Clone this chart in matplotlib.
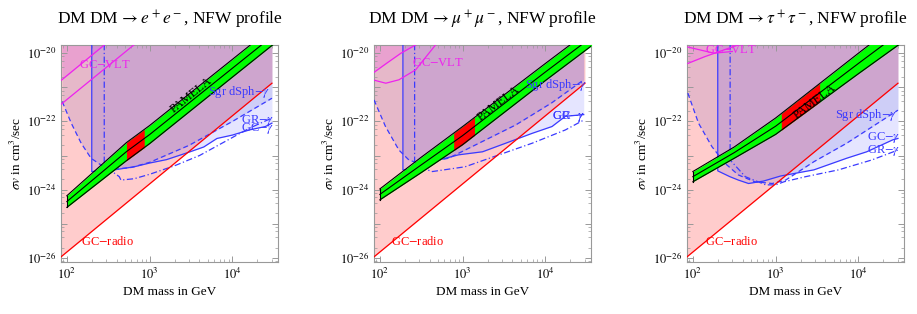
import numpy as np
import matplotlib.pyplot as plt
from matplotlib.ticker import LogLocator, NullFormatter, FixedLocator

plt.rcParams['font.family'] = ['Liberation Serif', 'DejaVu Serif']
plt.rcParams['mathtext.fontset'] = 'stix'

# ---- data (mass in GeV, log10 of sigma v in cm^3/sec) ----
titles = [r'DM DM$\,\rightarrow e^+e^-$, NFW profile',
          r'DM DM$\,\rightarrow \mu^+\mu^-$, NFW profile',
          r'DM DM$\,\rightarrow \tau^+\tau^-$, NFW profile']

radio_m = [85, 30000]
radio_lsv = [-25.97, -20.88]

# e+ e-
ee_band_m = [100, 525, 1000, 10000, 40000]
ee_band_lo = [-24.52, -23.15, -22.65, -20.70, -19.53]
ee_band_hi = [-24.18, -22.62, -22.12, -20.18, -19.01]
ee_red = [525, 860]
ee_sgr_m = [88, 113, 149, 196, 259, 375, 600, 1000, 3000, 10000, 30000]
ee_sgr = [-21.42, -22.05, -22.64, -23.08, -23.28, -23.40, -23.35, -23.2, -22.7, -22.0, -21.32]
ee_gc_m = [200, 200, 260, 375, 650, 1000, 1600, 3000, 4500, 6500, 10000, 16000, 25000, 30000]
ee_gc = [-19.0, -23.47, -23.45, -23.42, -23.33, -23.22, -23.12, -22.9, -22.75, -22.5, -22.40, -22.25, -22.15, -22.05]
ee_gr_m = [283, 283, 430, 450, 650, 1000, 2000, 4000, 8000, 16000, 30000]
ee_gr = [-19.0, -23.3, -23.62, -23.72, -23.68, -23.55, -23.3, -23.0, -22.6, -22.2, -21.9]
ee_vlt_m = [[85, 500], [85, 1000]]
ee_vlt = [[-20.80, -19.27], [-21.50, -19.38]]

# mu+ mu-
mm_band_m = [100, 316, 1000, 10000, 40000]
mm_band_lo = [-24.30, -23.50, -22.68, -20.80, -19.70]
mm_band_hi = [-23.98, -23.05, -22.15, -20.30, -19.20]
mm_red = [780, 1390]
mm_sgr_m = [85, 117, 170, 224, 295, 676, 1900, 4400, 7000, 12000, 29000]
mm_sgr = [-21.37, -22.15, -22.84, -23.13, -23.23, -23.08, -22.54, -22.1, -21.8, -21.45, -20.78]
mm_gc_m = [190, 190, 280, 430, 890, 1740, 3300, 6900, 12000, 17400, 29000]
mm_gc = [-19.0, -23.42, -23.42, -23.18, -22.98, -22.89, -22.64, -22.35, -22.15, -21.85, -21.8]
mm_gr_m = [263, 263, 355, 430, 1070, 2750, 6900, 17400, 29000]
mm_gr = [-19.0, -23.18, -23.4, -23.47, -23.33, -22.98, -22.64, -22.25, -21.96]
mm_vlt_m = [[82, 120, 180, 270], [82, 118, 170, 270, 470]]
mm_vlt = [[-20.59, -20.30, -20.00, -19.76], [-20.78, -20.88, -20.78, -20.49, -19.76]]

# tau+ tau-
tt_band_m = [100, 316, 1000, 10000, 40000]
tt_band_lo = [-23.77, -23.08, -22.38, -20.60, -19.55]
tt_band_hi = [-23.47, -22.75, -21.90, -20.00, -18.87]
tt_red = [1170, 3400]
tt_sgr_m = [87, 117, 170, 245, 355, 560, 910, 1320, 2900, 7200, 30000]
tt_sgr = [-21.17, -22.05, -22.74, -23.23, -23.57, -23.77, -23.82, -23.72, -23.18, -22.64, -21.67]
tt_gc_m = [200, 200, 280, 355, 470, 710, 1150, 2900, 7200, 12600, 26000, 30000]
tt_gc = [-19.0, -23.45, -23.62, -23.72, -23.82, -23.75, -23.6, -23.42, -23.08, -22.89, -22.54, -22.5]
tt_gr_m = [282, 282, 430, 760, 1000, 1260, 2300, 5750, 14500, 30000]
tt_gr = [-19.0, -23.13, -23.62, -23.86, -23.86, -23.77, -23.62, -23.42, -23.13, -22.84]
tt_vlt_m = [[87, 140, 350], [87, 180, 300]]
tt_vlt = [[-20.30, -20.10, -19.76], [-19.82, -20.0, -19.95]]

panels = [
    (ee_band_m, ee_band_lo, ee_band_hi, ee_red, ee_sgr_m, ee_sgr, ee_gc_m, ee_gc, ee_gr_m, ee_gr, ee_vlt_m, ee_vlt),
    (mm_band_m, mm_band_lo, mm_band_hi, mm_red, mm_sgr_m, mm_sgr, mm_gc_m, mm_gc, mm_gr_m, mm_gr, mm_vlt_m, mm_vlt),
    (tt_band_m, tt_band_lo, tt_band_hi, tt_red, tt_sgr_m, tt_sgr, tt_gc_m, tt_gc, tt_gr_m, tt_gr, tt_vlt_m, tt_vlt),
]

# label spots (mass, log sigma v)
vlt_pos = [(140, -20.34), (245, -20.29), (140, -19.9)]
radio_pos = [(148, -25.53), (135, -25.53), (140, -25.53)]
sgr_pos = [(5100, -21.13), (5700, -20.93), (5200, -21.81)]
gc_pos = [(12600, -22.2), (12000, -21.86), (12600, -22.47)]
gr_pos = [(12600, -21.98), (12000, -21.86), (12600, -22.86)]
pamela_pos = [(3200, -21.22), (2750, -21.47), (3000, -21.42)]

ymin, ymax = -26.13, -19.76
xmin, xmax = 85, 35500
blue = '#3a3aff'
frame = '#999999'

fig = plt.figure(figsize=(9.17, 3.14), dpi=100)
lefts = [61, 374, 687]

for i, (bm, blo, bhi, red, sm, ss, gm, gs, rm, rs, vm, vs) in enumerate(panels):
    ax = fig.add_axes([lefts[i] / 917, 1 - 262.3 / 314, 217 / 917, 217.3 / 314])
    ax.set_xscale('log')
    ax.set_yscale('log')
    ax.set_xlim(xmin, xmax)
    ax.set_ylim(10 ** ymin, 10 ** ymax)
    top = 10 ** (ymax + 1)

    # radio region
    rm_ = np.array(radio_m, float)
    rl = 10 ** np.array(radio_lsv)
    ax.fill_between(rm_, rl, top, color='red', alpha=0.2, lw=0, zorder=1)
    ax.plot(rm_, rl, color='red', lw=0.9, zorder=4)

    # gamma regions
    ax.fill_between(sm, 10 ** np.array(ss), top, color=(0.04, 0.04, 0.72), alpha=0.1, lw=0, zorder=1)
    ax.fill_between(gm[1:], 10 ** np.array(gs[1:]), top, color='blue', alpha=0.1, lw=0, zorder=1)

    # GC-VLT
    ax.fill_between(vm[0], 10 ** np.array(vs[0]), top, color='magenta', alpha=0.12, lw=0, zorder=1)
    for m_, s_ in zip(vm, vs):
        ax.plot(m_, 10 ** np.array(s_), color='#ee22ee', lw=0.9, zorder=4)

    ax.plot(sm, 10 ** np.array(ss), color=blue, lw=0.9, dashes=(4, 2.5), zorder=3)
    ax.plot(gm, 10 ** np.array(gs), color=blue, lw=0.9, zorder=3)
    ax.plot(rm, 10 ** np.array(rs), color=blue, lw=0.9, dashes=(5, 2, 1, 2), zorder=3)

    # PAMELA band
    lo = 10 ** np.array(blo)
    hi = 10 ** np.array(bhi)
    ax.fill_between(bm, lo, hi, color='#00ff00', lw=0, zorder=5)
    mm = np.geomspace(red[0], red[1], 30)
    lbm = np.log10(bm)
    rlo = 10 ** np.interp(np.log10(mm), lbm, blo)
    rhi = 10 ** np.interp(np.log10(mm), lbm, bhi)
    ax.fill_between(mm, rlo, rhi, color='#ff0000', lw=0, zorder=5)
    ax.plot(bm, lo, color='k', lw=0.8, zorder=6)
    ax.plot(bm, hi, color='k', lw=0.8, zorder=6)
    ax.plot(bm, np.sqrt(lo * hi), color='k', lw=0.8, zorder=6)
    ax.plot([bm[0], bm[0]], [lo[0], hi[0]], color='k', lw=0.8, zorder=6)

    # rotated PAMELA label
    pm, ps = pamela_pos[i]
    c = np.log10(np.sqrt(lo * hi))
    p1 = ax.transData.transform((pm / 1.5, 10 ** np.interp(np.log10(pm / 1.5), lbm, c)))
    p2 = ax.transData.transform((pm * 1.5, 10 ** np.interp(np.log10(pm * 1.5), lbm, c)))
    ang = np.degrees(np.arctan2(p2[1] - p1[1], p2[0] - p1[0]))
    ax.text(pm, 10 ** ps, 'PAMELA', rotation=ang, rotation_mode='anchor',
            ha='center', va='center', fontsize=9, zorder=7)

    ax.text(vlt_pos[i][0], 10 ** vlt_pos[i][1], 'GC$-$VLT', color='#ee22ee', fontsize=9, va='center', zorder=8)
    ax.text(radio_pos[i][0], 10 ** radio_pos[i][1], 'GC$-$radio', color='red', fontsize=9, va='center', zorder=8)
    ax.text(sgr_pos[i][0], 10 ** sgr_pos[i][1], r'Sgr dSph$-\gamma$', color=blue, fontsize=9, va='center', zorder=8)
    ax.text(gc_pos[i][0], 10 ** gc_pos[i][1], r'GC$-\gamma$', color=blue, fontsize=9, va='center', zorder=8)
    ax.text(gr_pos[i][0], 10 ** gr_pos[i][1], r'GR$-\gamma$', color=blue, fontsize=9, va='center', zorder=8)

    # axes styling
    ax.yaxis.set_major_locator(FixedLocator([10.0 ** k for k in range(-26, -19)]))
    ax.set_yticklabels(['$10^{%d}$' % k if k % 2 == 0 else '' for k in range(-26, -19)])
    ax.yaxis.set_minor_locator(LogLocator(base=10, subs=[2, 4, 6, 8], numticks=20))
    ax.yaxis.set_minor_formatter(NullFormatter())
    ax.xaxis.set_major_locator(FixedLocator([1e2, 1e3, 1e4]))
    ax.set_xticklabels(['$10^{2}$', '$10^{3}$', '$10^{4}$'])
    ax.xaxis.set_minor_locator(LogLocator(base=10, subs=np.arange(2, 10), numticks=20))
    ax.xaxis.set_minor_formatter(NullFormatter())
    ax.tick_params(which='both', direction='in', top=True, right=True, color=frame, labelsize=9)
    ax.tick_params(which='major', length=4, width=0.7)
    ax.tick_params(which='minor', length=2, width=0.5)
    for sp in ax.spines.values():
        sp.set_color(frame)
        sp.set_linewidth(0.8)
    ax.set_title(titles[i], fontsize=12.5, pad=15)
    ax.set_xlabel('DM mass in GeV', fontsize=9.5, labelpad=3)
    ax.set_ylabel(r'$\sigma v$ in cm$^3$/sec', fontsize=9.5, labelpad=2)

fig.savefig('out.png', dpi=100)
